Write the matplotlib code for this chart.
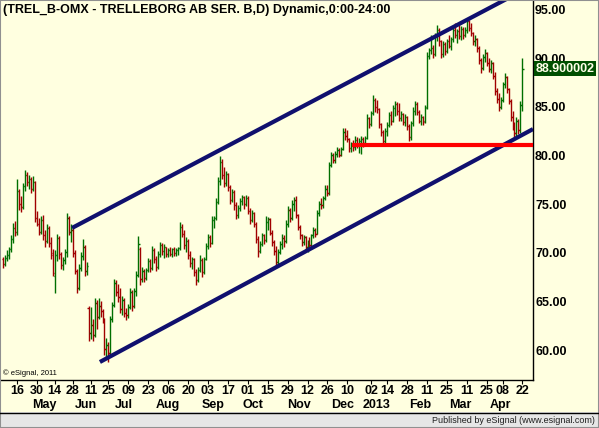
import numpy as np
import pandas as pd
import matplotlib
matplotlib.use('Agg')
import matplotlib.pyplot as plt
from matplotlib import transforms
from matplotlib.patches import Rectangle
from matplotlib.lines import Line2D

plt.rcParams['font.family'] = ['Liberation Sans', 'DejaVu Sans']

# DATA (TREL_B daily bars, Apr 2012 - Apr 2013)
holidays = ['2012-04-06', '2012-04-09', '2012-05-01', '2012-05-17', '2012-06-06',
            '2012-06-22', '2012-12-24', '2012-12-25', '2012-12-26', '2012-12-31',
            '2013-01-01', '2013-03-29', '2013-04-01']

opens = [69.4, 68.9, 69.5, 69.8, 70.4, 71.4, 72.6, 72.2, 76.4, 75.0,
         74.7, 76.9, 78.0, 77.3, 77.6, 76.6, 77.3, 73.6, 73.0, 72.2,
         73.4, 71.8, 71.2, 72.6, 71.0, 70.0, 67.6, 69.8, 71.5, 69.9,
         68.8, 69.3, 70.1, 73.6, 72.2, 72.4, 70.0, 68.2, 66.4, 68.5,
         69.7, 70.6, 68.1, 64.4, 61.8, 62.6, 61.6, 64.9, 63.4, 64.6,
         64.0, 63.2, 60.1, 60.6, 59.7, 63.2, 64.7, 66.9, 66.0, 65.5,
         64.2, 65.2, 63.8, 63.6, 64.5, 66.0, 64.6, 66.1, 67.7, 70.4,
         67.3, 68.2, 67.4, 68.3, 69.2, 68.5, 70.3, 69.4, 68.6, 69.9,
         70.8, 70.2, 70.6, 69.9, 70.3, 69.9, 70.4, 70.0, 70.3, 70.5,
         72.7, 72.0, 70.8, 71.2, 69.8, 69.0, 69.4, 68.0, 67.2, 68.3,
         69.3, 68.0, 69.4, 70.7, 71.6, 71.0, 73.4, 73.6, 75.2, 77.4,
         79.3, 78.0, 77.2, 78.1, 76.8, 75.4, 76.3, 74.9, 73.9, 74.6,
         75.3, 75.7, 75.0, 75.6, 74.3, 73.4, 74.1, 73.0, 71.4, 70.2,
         70.9, 71.8, 71.3, 73.2, 73.5, 72.1, 71.1, 70.2, 69.1, 70.1,
         70.9, 71.5, 71.2, 73.0, 74.4, 73.6, 75.0, 75.4, 73.9, 72.7,
         71.8, 71.1, 71.6, 70.6, 71.0, 70.8, 71.8, 72.4, 72.0, 74.1,
         75.0, 74.9, 75.6, 76.6, 76.2, 79.0, 80.1, 79.5, 80.2, 80.6,
         80.1, 80.7, 82.4, 82.0, 81.7, 80.8, 81.2, 80.9, 81.6, 81.1,
         81.5, 81.7, 81.3, 81.8, 83.9, 83.2, 84.4, 85.7, 85.0, 84.8,
         83.2, 82.4, 81.5, 82.5, 83.1, 84.2, 83.6, 84.9, 85.3, 84.6,
         83.9, 84.3, 83.4, 84.0, 83.0, 81.9, 83.3, 84.6, 85.3, 84.5,
         83.6, 84.0, 83.5, 85.0, 90.2, 90.8, 91.0, 90.4, 92.3, 92.9,
         91.8, 90.4, 91.5, 90.7, 91.8, 91.3, 92.0, 92.9, 92.4, 92.8,
         92.3, 93.0, 92.4, 92.9, 93.8, 93.1, 92.6, 91.8, 92.0, 91.0,
         89.8, 89.0, 90.1, 90.5, 89.5, 88.9, 89.5, 88.2, 86.6, 85.8,
         85.0, 85.7, 87.3, 88.1, 86.8, 85.6, 84.0, 83.0, 82.3, 83.6,
         82.6, 85.2]
highs = [69.6, 69.8, 70.3, 70.6, 71.8, 73.1, 73.3, 77.6, 76.6, 75.8,
         77.2, 78.5, 78.3, 78.0, 77.8, 77.9, 77.4, 74.3, 73.6, 73.8,
         73.9, 72.4, 73.0, 72.8, 71.6, 70.4, 70.3, 72.0, 71.7, 70.1,
         69.6, 70.4, 74.1, 73.8, 73.0, 72.7, 70.3, 68.4, 68.9, 70.1,
         71.4, 70.8, 69.1, 64.6, 64.5, 63.2, 65.4, 65.2, 65.4, 65.1,
         64.3, 63.3, 61.3, 60.9, 63.5, 65.0, 67.3, 67.2, 66.8, 66.4,
         65.6, 65.4, 64.4, 64.8, 66.4, 66.2, 66.4, 68.1, 71.7, 70.6,
         68.6, 68.4, 68.5, 69.5, 69.4, 70.7, 70.5, 69.7, 70.2, 71.1,
         71.0, 70.9, 70.6, 70.5, 70.6, 70.5, 70.6, 70.5, 70.6, 73.2,
         73.0, 72.4, 71.6, 71.4, 70.2, 69.6, 69.5, 68.4, 68.6, 69.8,
         69.5, 69.6, 71.0, 71.9, 71.8, 73.8, 73.8, 75.6, 77.8, 80.0,
         79.6, 78.8, 78.4, 78.2, 77.0, 76.6, 76.5, 75.2, 74.9, 75.6,
         76.0, 75.9, 76.0, 75.8, 74.6, 74.4, 74.2, 73.2, 71.7, 71.2,
         72.1, 72.0, 73.8, 73.7, 73.6, 72.4, 71.3, 70.7, 70.4, 71.2,
         71.9, 71.8, 73.4, 74.8, 74.6, 75.4, 75.7, 75.8, 74.0, 72.9,
         71.9, 71.8, 71.7, 71.3, 71.6, 72.0, 72.7, 72.6, 74.4, 75.3,
         75.6, 75.8, 77.0, 77.0, 79.3, 80.4, 80.3, 80.5, 80.9, 80.8,
         80.9, 82.8, 82.8, 82.6, 81.8, 81.4, 81.6, 82.0, 81.9, 81.8,
         82.0, 81.9, 82.0, 84.3, 84.0, 84.6, 86.2, 85.9, 85.7, 84.9,
         83.3, 82.6, 82.8, 83.4, 84.5, 84.6, 85.2, 85.6, 85.5, 85.4,
         84.6, 84.4, 84.3, 84.1, 83.2, 83.6, 85.0, 85.6, 85.5, 84.7,
         84.3, 84.1, 85.2, 90.6, 91.0, 92.4, 91.4, 92.6, 93.4, 93.1,
         91.9, 91.8, 91.7, 92.0, 92.4, 92.2, 93.2, 93.6, 93.0, 93.4,
         93.3, 93.2, 93.2, 94.1, 93.9, 93.6, 92.7, 92.4, 92.1, 91.3,
         90.0, 90.4, 90.9, 90.6, 90.0, 89.8, 89.6, 88.6, 86.9, 86.4,
         86.0, 87.6, 88.5, 88.2, 86.9, 85.8, 84.6, 83.4, 84.0, 83.8,
         85.6, 90.0]
lows = [68.5, 68.7, 69.2, 69.4, 70.1, 71.0, 71.7, 71.8, 74.4, 74.2,
        74.5, 76.4, 76.9, 76.6, 76.2, 76.4, 73.2, 72.8, 71.8, 72.0,
        71.3, 70.6, 71.0, 70.6, 69.4, 67.6, 65.9, 69.2, 69.4, 68.4,
        68.3, 68.9, 69.6, 71.8, 71.1, 69.6, 67.8, 65.9, 66.2, 68.1,
        69.3, 67.6, 67.7, 61.0, 61.2, 61.0, 61.4, 62.2, 63.2, 63.4,
        62.8, 59.5, 59.3, 58.8, 59.5, 62.9, 64.5, 65.6, 65.0, 63.8,
        63.6, 63.4, 63.1, 63.3, 64.2, 64.0, 64.4, 65.6, 67.5, 66.7,
        67.0, 67.0, 67.2, 68.0, 68.0, 68.3, 69.0, 68.1, 68.4, 69.6,
        69.8, 69.5, 69.6, 69.6, 69.7, 69.6, 69.7, 69.7, 69.8, 70.3,
        71.6, 70.4, 70.1, 69.4, 68.6, 68.4, 67.6, 66.7, 67.0, 68.0,
        67.5, 67.8, 69.3, 70.4, 70.6, 70.9, 72.6, 73.4, 75.0, 77.0,
        77.6, 76.8, 76.9, 76.4, 75.0, 75.2, 74.4, 73.5, 73.6, 74.3,
        74.9, 74.5, 74.8, 74.0, 73.0, 73.2, 72.7, 71.0, 69.6, 70.0,
        70.7, 70.9, 71.1, 72.4, 71.8, 70.7, 69.8, 68.6, 68.8, 69.9,
        70.4, 70.6, 71.0, 72.7, 73.2, 73.4, 74.3, 73.6, 72.4, 71.4,
        70.7, 70.8, 70.2, 70.1, 70.4, 70.6, 71.5, 71.6, 71.9, 73.8,
        74.5, 74.6, 75.4, 75.8, 76.0, 78.8, 79.2, 79.2, 79.9, 79.9,
        80.0, 80.6, 81.6, 81.4, 80.4, 80.4, 80.5, 80.6, 80.8, 80.3,
        80.2, 80.9, 81.0, 81.7, 82.8, 83.0, 84.2, 84.5, 84.4, 82.8,
        82.0, 81.0, 81.0, 82.0, 82.9, 83.1, 83.4, 84.1, 84.2, 83.5,
        83.5, 83.1, 83.0, 82.6, 81.5, 81.6, 83.0, 84.2, 84.2, 83.3,
        83.1, 83.1, 83.3, 84.8, 89.9, 90.4, 90.0, 90.2, 91.8, 91.3,
        90.0, 90.1, 90.3, 90.5, 91.0, 90.8, 91.7, 92.1, 91.6, 92.0,
        91.9, 92.0, 92.2, 92.6, 92.8, 92.3, 91.4, 91.2, 90.6, 89.4,
        88.5, 88.8, 89.6, 89.2, 88.6, 88.5, 87.9, 86.2, 85.4, 84.6,
        84.8, 85.5, 86.9, 86.4, 85.3, 83.6, 82.6, 81.9, 82.0, 82.2,
        82.3, 84.6]
closes = [68.9, 69.5, 69.8, 70.4, 71.4, 72.6, 72.2, 76.4, 75.0, 74.7,
          76.9, 78.0, 77.3, 77.6, 76.6, 77.3, 73.6, 73.0, 72.2, 73.4,
          71.8, 71.2, 72.6, 71.0, 69.8, 67.9, 69.8, 71.5, 69.9, 68.8,
          69.3, 70.1, 73.6, 72.2, 72.4, 70.0, 68.2, 66.4, 68.5, 69.7,
          70.6, 68.1, 68.7, 61.8, 62.6, 61.6, 64.9, 63.4, 64.6, 64.0,
          63.2, 60.1, 60.6, 59.7, 63.2, 64.7, 66.9, 66.0, 65.5, 64.2,
          65.2, 63.8, 63.6, 64.5, 66.0, 64.6, 66.1, 67.7, 70.9, 67.3,
          68.2, 67.4, 68.3, 69.2, 68.5, 70.3, 69.4, 68.6, 69.9, 70.8,
          70.2, 70.6, 69.9, 70.3, 69.9, 70.4, 70.0, 70.3, 70.5, 72.7,
          72.0, 70.8, 71.2, 69.8, 69.0, 69.4, 68.0, 67.2, 68.3, 69.3,
          68.0, 69.4, 70.7, 71.6, 71.0, 73.4, 73.6, 75.2, 77.4, 79.3,
          78.0, 77.2, 78.1, 76.8, 75.4, 76.3, 74.9, 73.9, 74.6, 75.3,
          75.7, 75.0, 75.6, 74.3, 73.4, 74.1, 73.0, 71.4, 70.2, 70.9,
          71.8, 71.3, 73.2, 73.5, 72.1, 71.1, 70.2, 69.1, 70.1, 70.9,
          71.5, 71.2, 73.0, 74.4, 73.6, 75.0, 75.4, 73.9, 72.7, 71.8,
          71.1, 71.6, 70.6, 71.0, 70.8, 71.8, 72.4, 72.0, 74.1, 75.0,
          74.9, 75.6, 76.6, 76.2, 79.0, 80.1, 79.5, 80.2, 80.6, 80.1,
          80.7, 82.4, 82.0, 81.7, 80.8, 81.2, 80.9, 81.6, 81.1, 81.5,
          81.7, 81.3, 81.8, 83.9, 83.2, 84.4, 85.7, 85.0, 84.8, 83.2,
          82.4, 81.5, 82.5, 83.1, 84.2, 83.6, 84.9, 85.3, 84.6, 83.9,
          84.3, 83.4, 84.0, 83.0, 81.9, 83.3, 84.6, 85.3, 84.5, 83.6,
          84.0, 83.4, 84.9, 90.2, 90.8, 91.0, 90.4, 92.3, 92.9, 91.8,
          90.4, 91.5, 90.7, 91.8, 91.3, 92.0, 92.9, 92.4, 92.8, 92.3,
          93.0, 92.4, 92.9, 93.8, 93.1, 92.6, 91.8, 92.0, 91.0, 89.8,
          89.0, 90.1, 90.5, 89.5, 88.9, 89.5, 88.2, 86.6, 85.8, 85.0,
          85.7, 87.3, 88.1, 86.8, 85.6, 84.0, 83.0, 82.3, 83.6, 82.6,
          85.2, 88.9]

# trend channel and support line (bar index, price)
upper_x = [34.7, 266.3]
upper_y = [72.57, 97.51]
lower_x = [48.7, 266.3]
lower_y = [58.81, 82.72]
support_x = [175.5, 266.3]
support_y = [81.1, 81.1]
last_label = '88.900002'

yticks = [60, 65, 70, 75, 80, 85, 90, 95]
tick_dates = ['2012-04-16', '2012-04-30', '2012-05-14', '2012-05-28', '2012-06-11',
              '2012-06-25', '2012-07-09', '2012-07-23', '2012-08-06', '2012-08-20',
              '2012-09-03', '2012-09-17', '2012-10-01', '2012-10-15', '2012-10-29',
              '2012-11-12', '2012-11-26', '2012-12-10', '2013-01-02', '2013-01-14',
              '2013-01-28', '2013-02-11', '2013-02-25', '2013-03-11', '2013-03-25',
              '2013-04-08', '2013-04-22']
month_starts = ['2012-05-01', '2012-06-01', '2012-07-01', '2012-08-01', '2012-09-01',
                '2012-10-01', '2012-11-01', '2012-12-01', '2013-01-01', '2013-02-01',
                '2013-03-01', '2013-04-01']
month_labels = ['May', 'Jun', 'Jul', 'Aug', 'Sep', 'Oct', 'Nov', 'Dec', '2013',
                'Feb', 'Mar', 'Apr']

title = '(TREL_B-OMX - TRELLEBORG AB SER. B,D) Dynamic,0:00-24:00'

# STYLE
W, H = 599, 428
BG = '#ffffe0'
GREEN = '#006f00'
RED = '#a00000'
NAVY = '#10106e'


def fy(ypx):
    return 1 - ypx / H


days = pd.bdate_range('2012-04-03', '2013-04-22')
days = days[~days.isin(pd.to_datetime(holidays))]

fig = plt.figure(figsize=(W / 100, H / 100), dpi=100)
fig.patch.set_facecolor(BG)
ax = fig.add_axes([1 / W, fy(380), 532 / W, 379 / H])
ax.set_facecolor(BG)
ax.set_xlim(-1.0, 266.3)
ax.set_ylim(56.96, 95.87)

# OHLC bars
x = np.arange(len(closes))
cols = np.where(np.array(closes) >= np.array(opens), GREEN, RED)
ax.vlines(x, lows, highs, colors=cols, lw=1.0)
ax.hlines(opens, x - 0.6, x, colors=cols, lw=1.0)
ax.hlines(closes, x, x + 0.6, colors=cols, lw=1.0)

ax.plot(upper_x, upper_y, color=NAVY, lw=3, solid_capstyle='butt', zorder=3)
ax.plot(lower_x, lower_y, color=NAVY, lw=3, solid_capstyle='butt', zorder=3)
ax.plot(support_x, support_y, color='#ff0000', lw=3, solid_capstyle='butt', zorder=3)

for s in ['left', 'top']:
    ax.spines[s].set_visible(False)
for s in ['right', 'bottom']:
    ax.spines[s].set_color('black')
    ax.spines[s].set_linewidth(1.0)

ax.yaxis.tick_right()
ax.set_yticks(yticks, ['%.2f' % v for v in yticks], fontsize=9, fontweight='bold')
ax.tick_params(axis='y', length=0, pad=1.5)

tick_pos = days.get_indexer(pd.to_datetime(tick_dates))
ax.set_xticks(tick_pos, [d[-2:] for d in tick_dates], fontsize=9, fontweight='bold')
ax.tick_params(axis='x', length=3, width=0.8, pad=0.5, direction='out')

blend = transforms.blended_transform_factory(ax.transData, fig.transFigure)
for m, lab in zip(month_starts, month_labels):
    i = days.searchsorted(pd.Timestamp(m))
    ax.text(i + 2.8, fy(405), lab, transform=blend, ha='center', va='center',
            fontsize=9, fontweight='bold')

# last price box
blend_y = transforms.blended_transform_factory(ax.transAxes, ax.transData)
ax.text(1 + 2.5 / 532, closes[-1], last_label, transform=blend_y, ha='left', va='center',
        fontsize=9, fontweight='bold', color='#ffffe8', zorder=5,
        bbox=dict(boxstyle='square,pad=0.12', fc='#004f00', ec='none'))

fig.text(3 / W, fy(10), title, fontsize=9, fontweight='bold', ha='left', va='center')
fig.text(3 / W, fy(373), '\u00a9 eSignal, 2011', fontsize=5.5, ha='left', va='center')

# footer strip
fig.add_artist(Rectangle((0, 0), 1, 16 / H, transform=fig.transFigure,
                         facecolor='#e6e6e6', edgecolor='none'))
fig.add_artist(Line2D([0, 1], [fy(412.5)] * 2, transform=fig.transFigure,
                      color='black', lw=1))
fig.text(595 / W, fy(420.5), 'Published by eSignal (www.esignal.com)', fontsize=6.5,
         ha='right', va='center', color='#202020')
fig.add_artist(Rectangle((0, 0), 1, 1, transform=fig.transFigure, fill=False,
                         edgecolor='#909090', lw=1.5))

fig.savefig('out.png', dpi=100, facecolor=BG)
